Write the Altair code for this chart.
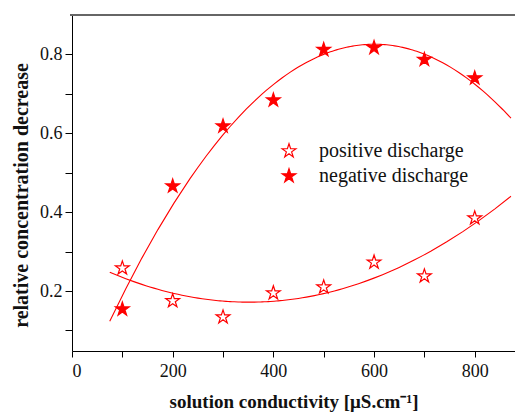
import altair as alt
import pandas as pd

# Measured relative concentration decrease vs. solution conductivity
conductivity = [100, 200, 300, 400, 500, 600, 700, 800]
positive = [0.258, 0.175, 0.134, 0.195, 0.210, 0.273, 0.238, 0.385]
negative = [0.154, 0.466, 0.618, 0.684, 0.812, 0.817, 0.787, 0.740]
series_names = ["positive discharge", "negative discharge"]

df = pd.DataFrame({
    "x": conductivity * 2,
    "y": positive + negative,
    "series": [series_names[0]] * len(positive) + [series_names[1]] * len(negative),
})

W, H = 443, 336
FONT = "Liberation Serif"
RED = "#ff0000"
# five-pointed star as a custom symbol path (unit box)
STAR = ("M0,-1L0.2245,-0.309L0.9511,-0.309L0.3633,0.118L0.5878,0.809L0,0.382"
        "L-0.5878,0.809L-0.3633,0.118L-0.9511,-0.309L-0.2245,-0.309Z")

xscale = alt.Scale(domain=[0, 880], nice=False, zero=False)
yscale = alt.Scale(domain=[0.048, 0.9], nice=False, zero=False)

x_axis = alt.Axis(
    values=list(range(0, 900, 100)),
    labelExpr="datum.value % 200 == 0 ? datum.label : ''",
    format="d", grid=False, tickSize=6, tickColor="black", domainColor="black",
    labelFont=FONT, labelFontSize=18, labelColor="#111", labelPadding=5,
    title="solution conductivity [\u03bcS.cm\u207b\u00b9]",
    titleFont=FONT, titleFontSize=19, titleFontWeight="bold", titleColor="#111",
    titlePadding=12,
)
y_axis = alt.Axis(
    values=[0.1, 0.2, 0.3, 0.4, 0.5, 0.6, 0.7, 0.8],
    labelExpr="round(datum.value * 10) % 2 == 0 ? format(datum.value, '.1f') : ''",
    grid=False, tickSize=7, tickColor="black", domainColor="black",
    labelFont=FONT, labelFontSize=18, labelColor="#111", labelPadding=3,
    title="relative concentration decrease",
    titleFont=FONT, titleFontSize=20, titleFontWeight="bold", titleColor="#111",
    titlePadding=8, titleY=180,
)

base = alt.Chart(df)

# quadratic least-squares fit for each discharge polarity
fits = base.transform_regression(
    "x", "y", groupby=["series"], method="poly", order=2, extent=[75, 872]
).mark_line(color=RED, strokeWidth=1.1).encode(
    x=alt.X("x:Q", scale=xscale, axis=x_axis),
    y=alt.Y("y:Q", scale=yscale, axis=y_axis),
    detail="series:N",
)

points = base.mark_point(
    shape=STAR, size=210, color=RED, strokeWidth=1.2, filled=False, opacity=1
).encode(
    x=alt.X("x:Q", scale=xscale),
    y=alt.Y("y:Q", scale=yscale),
    fill=alt.Fill(
        "series:N",
        scale=alt.Scale(domain=series_names, range=["#ffffff", RED]),
        legend=alt.Legend(
            title=None, orient="none", legendX=207, legendY=126,
            symbolType=STAR, symbolSize=210, symbolStrokeColor=RED,
            symbolStrokeWidth=1.2, symbolOpacity=1, labelFont=FONT, labelFontSize=20,
            labelColor="#111", labelOffset=20, rowPadding=5, padding=0,
        ),
    ),
)

top_line = alt.Chart(pd.DataFrame({"v": [0]})).mark_rule(color="#666", strokeWidth=2).encode(
    x=alt.value(-2), x2=alt.value(W), y=alt.value(0)
)

chart = alt.layer(fits, points, top_line).properties(
    width=W, height=H,
    padding={"left": 72, "top": 15, "right": 0, "bottom": 65},
    autosize=alt.AutoSizeParams(type="none"),
).configure_view(stroke=None)

chart.save("out.html", embed_options={"renderer": "svg", "actions": False})
